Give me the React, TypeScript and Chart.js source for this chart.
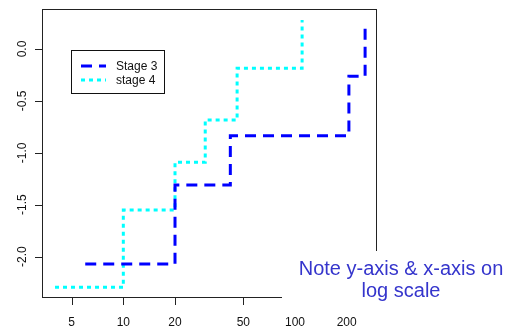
import React, { useEffect, useRef } from "react";
import { Chart, registerables } from "chart.js";

Chart.register(...registerables);

// Data
const stage3X = [6, 20, 42, 206, 256];
const stage3Y = [-2.07, -1.31, -0.835, -0.263, 0.241];
const stage4X = [4, 10, 20, 30, 46, 110];
const stage4Y = [-2.296, -1.551, -1.092, -0.684, -0.186, 0.279];

const seriesLabels = ["Stage 3", "stage 4"];
const xTicks = [5, 10, 20, 50, 100, 200];
const yTicks = [-2.0, -1.5, -1.0, -0.5, 0.0];
const noteLines = ["Note y-axis & x-axis on", "log scale"];

const FONT = '"Liberation Sans", Arial, sans-serif';

const rPlugin = {
  id: "rstyle",
  afterDraw(chart: any) {
    const ctx = chart.ctx as CanvasRenderingContext2D;
    const { left, top, right, bottom } = chart.chartArea;
    const xs = chart.scales.x;
    const ys = chart.scales.y;
    ctx.save();
    // frame
    ctx.strokeStyle = "#222";
    ctx.lineWidth = 1;
    ctx.setLineDash([]);
    ctx.strokeRect(left + 0.5, top + 0.5, right - left, bottom - top);
    // ticks
    ctx.beginPath();
    xTicks.forEach((v) => {
      const px = Math.round(xs.getPixelForValue(v)) + 0.5;
      ctx.moveTo(px, bottom);
      ctx.lineTo(px, bottom + 8);
    });
    yTicks.forEach((v) => {
      const py = Math.round(ys.getPixelForValue(v)) + 0.5;
      ctx.moveTo(left, py);
      ctx.lineTo(left - 7, py);
    });
    ctx.stroke();

    // white cover behind the note
    ctx.fillStyle = "#fff";
    ctx.fillRect(282, 251, 232, 59);

    // tick labels
    ctx.fillStyle = "#111";
    ctx.font = `12px ${FONT}`;
    ctx.textAlign = "center";
    ctx.textBaseline = "alphabetic";
    xTicks.forEach((v) => {
      const px = xs.getPixelForValue(v);
      ctx.fillText(String(v), px, 326);
    });
    yTicks.forEach((v) => {
      const py = ys.getPixelForValue(v);
      ctx.save();
      ctx.translate(22.5, py);
      ctx.rotate(-Math.PI / 2);
      ctx.textBaseline = "middle";
      ctx.fillText(v.toFixed(1), 0, 0);
      ctx.restore();
    });

    // legend
    const lx = 71, ly = 50, lw = 93, lh = 43;
    ctx.fillStyle = "#fff";
    ctx.fillRect(lx, ly, lw, lh);
    ctx.strokeStyle = "#111";
    ctx.lineWidth = 1;
    ctx.strokeRect(lx + 0.5, ly + 0.5, lw, lh);
    chart.data.datasets.forEach((ds: any, i: number) => {
      const yy = 66 + i * 14;
      ctx.strokeStyle = ds.borderColor;
      ctx.lineWidth = ds.borderWidth;
      ctx.setLineDash(ds.borderDash);
      ctx.beginPath();
      ctx.moveTo(81, yy);
      ctx.lineTo(106, yy);
      ctx.stroke();
      ctx.setLineDash([]);
      ctx.fillStyle = "#111";
      ctx.textAlign = "left";
      ctx.textBaseline = "middle";
      ctx.font = `12px ${FONT}`;
      ctx.fillText(ds.label, 116, yy + 1);
    });

    // note
    ctx.fillStyle = "#3535cc";
    ctx.font = `20px ${FONT}`;
    ctx.textAlign = "center";
    ctx.textBaseline = "alphabetic";
    ctx.fillText(noteLines[0], 401, 275);
    ctx.fillText(noteLines[1], 401, 297);
    ctx.restore();
  },
};

export default function App() {
  const ref = useRef<HTMLCanvasElement | null>(null);
  useEffect(() => {
    if (!ref.current) return;
    const chart = new Chart(ref.current, {
      type: "line",
      data: {
        datasets: [
          {
            label: seriesLabels[0],
            data: stage3X.map((x, i) => ({ x, y: stage3Y[i] })),
            borderColor: "#0000ff",
            borderWidth: 3,
            borderDash: [11, 7],
            stepped: true,
            pointRadius: 0,
            fill: false,
          },
          {
            label: seriesLabels[1],
            data: stage4X.map((x, i) => ({ x, y: stage4Y[i] })),
            borderColor: "#00ffff",
            borderWidth: 3,
            borderDash: [4, 4],
            stepped: true,
            pointRadius: 0,
            fill: false,
          },
        ],
      },
      options: {
        responsive: false,
        animation: false,
        layout: { padding: { left: 42, top: 9, right: 138, bottom: 34 } },
        scales: {
          x: { type: "logarithmic", min: 3.36, max: 296.3, display: false },
          y: { type: "linear", min: -2.389, max: 0.385, display: false },
        },
        plugins: { legend: { display: false }, tooltip: { enabled: false } },
      },
      plugins: [rPlugin],
    });
    return () => chart.destroy();
  }, []);
  return (
    <div style={{ position: "absolute", left: 0, top: 0, width: 514, height: 331, background: "#fff" }}>
      <canvas ref={ref} width={514} height={331} />
    </div>
  );
}
